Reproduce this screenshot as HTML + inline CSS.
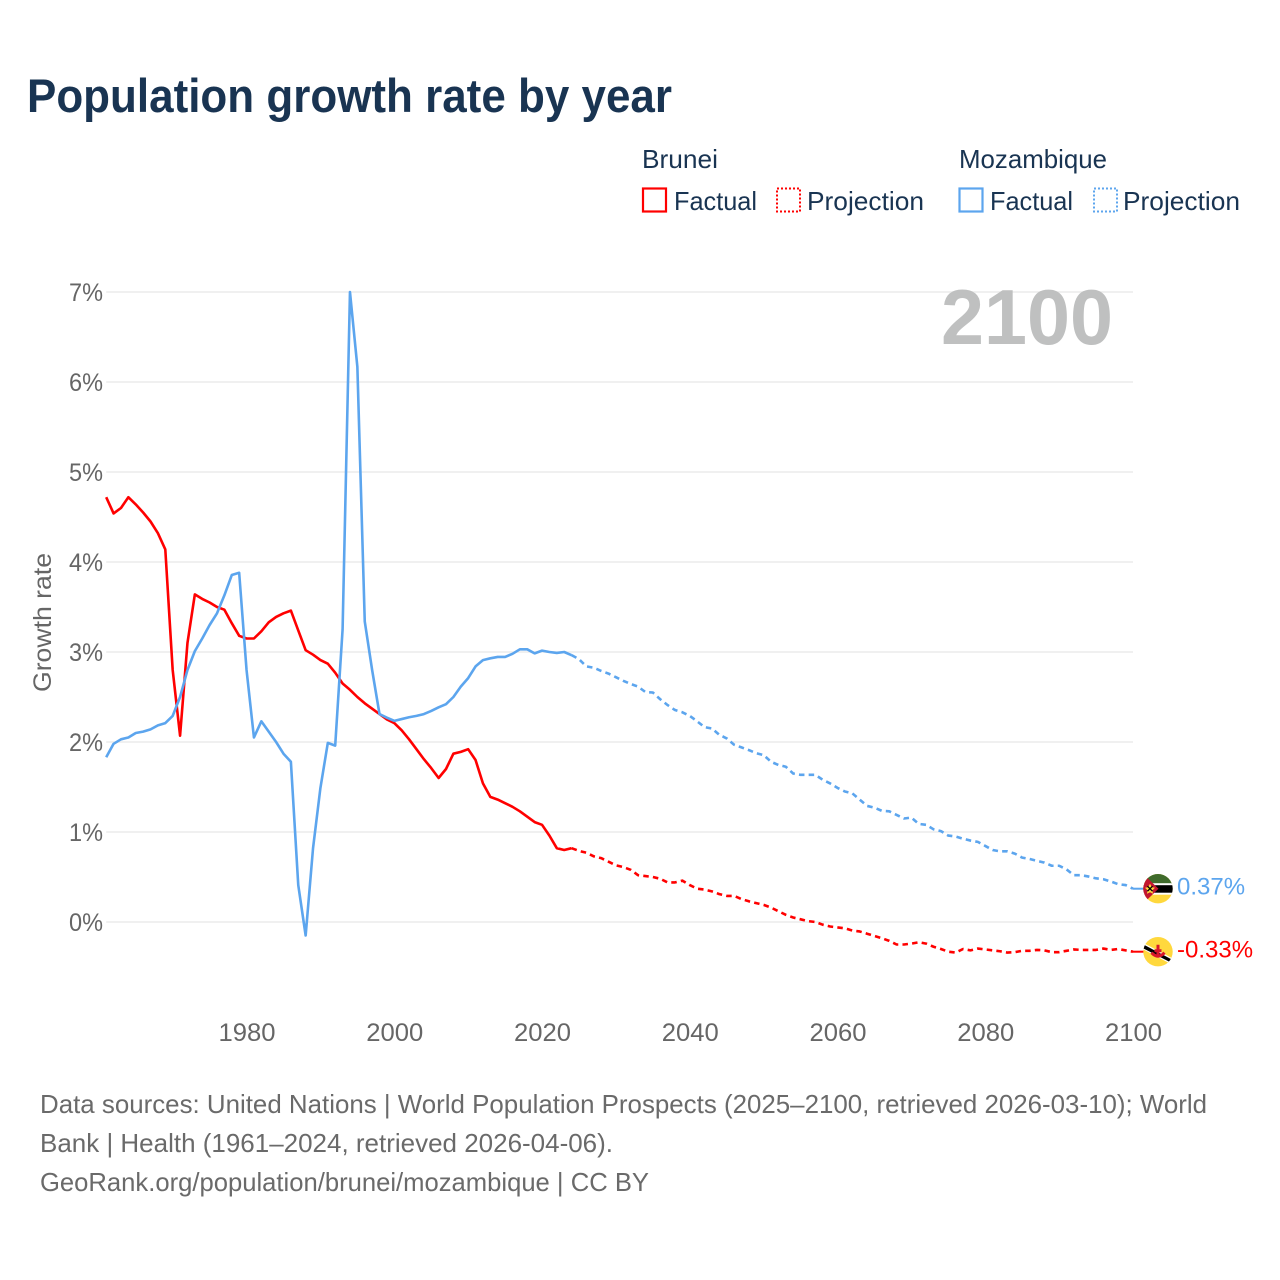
<!DOCTYPE html>
<html lang="en">
<head>
<meta charset="utf-8">
<title>Population growth rate by year</title>
<style>
html,body{margin:0;padding:0;background:#fff;}
svg{display:block;}
text{font-family:"Liberation Sans",sans-serif;}
</style>
</head>
<body>
<svg id="chart" xmlns="http://www.w3.org/2000/svg" width="1280" height="1280" viewBox="0 0 1280 1280">
  <rect width="1280" height="1280" fill="#fff"/>
  <text x="27" y="112" font-size="47" font-weight="700" fill="#193452" textLength="645" lengthAdjust="spacingAndGlyphs">Population growth rate by year</text>

  <g font-size="26" fill="#193452">
    <text x="642" y="168" textLength="76" lengthAdjust="spacingAndGlyphs">Brunei</text>
    <text x="959" y="168" textLength="148" lengthAdjust="spacingAndGlyphs">Mozambique</text>
    <rect x="643" y="188.5" width="23" height="23" fill="none" stroke="#ff0000" stroke-width="2.2"/>
    <text x="674" y="210" textLength="83" lengthAdjust="spacingAndGlyphs">Factual</text>
    <rect x="777" y="188.5" width="23" height="23" fill="none" stroke="#ff0000" stroke-width="2" stroke-dasharray="2 2"/>
    <text x="807" y="210" textLength="117" lengthAdjust="spacingAndGlyphs">Projection</text>
    <rect x="959.5" y="188.5" width="23" height="23" fill="none" stroke="#5ca5ee" stroke-width="2.2"/>
    <text x="990" y="210" textLength="83" lengthAdjust="spacingAndGlyphs">Factual</text>
    <rect x="1094" y="188.5" width="23" height="23" fill="none" stroke="#5ca5ee" stroke-width="2" stroke-dasharray="2 2"/>
    <text x="1123" y="210" textLength="117" lengthAdjust="spacingAndGlyphs">Projection</text>
  </g>

  <g id="grid"></g>
  <text x="941" y="344" font-size="78" font-weight="700" fill="#bfc0c0" textLength="172" lengthAdjust="spacingAndGlyphs">2100</text>
  <g id="yticks" font-size="25" fill="#666"></g>
  <g id="xticks" font-size="25" fill="#666"></g>
  <text transform="translate(51,692) rotate(-90)" font-size="25" fill="#666" textLength="139" lengthAdjust="spacingAndGlyphs">Growth rate</text>
  <g id="series"></g>

  <defs>
    <clipPath id="clip-flag"><circle cx="0" cy="0" r="14.7"/></clipPath>
  </defs>

  <g id="flag-moz">
    <g clip-path="url(#clip-flag)">
      <rect x="-16" y="-16" width="32" height="32" fill="#ffd83d"/>
      <rect x="-16" y="-16" width="32" height="11" fill="#3f6b2c"/>
      <rect x="-16" y="-5.5" width="32" height="11.5" fill="#fff"/>
      <rect x="-16" y="-3.5" width="32" height="7.5" fill="#000"/>
      <polygon points="-16,-16 0.5,0 -16,16" fill="#c2152f"/>
      <polygon points="-8,-5 -6,-1.5 -3,-1 -5.5,1.5 -5,5 -8,3.5 -11,5 -10.5,1.5 -13,-1 -10,-1.5" fill="#ffd83d"/>
      <path d="M-10.5 -2.5 L-5.5 2.5 M-5.5 -2.5 L-10.5 2.5" stroke="#000" stroke-width="1.3"/>
    </g>
  </g>
  <g id="flag-bru">
    <g clip-path="url(#clip-flag)">
      <rect x="-16" y="-16" width="32" height="32" fill="#ffd83d"/>
      <polygon points="-16,-9.5 -16,-3 16,14 16,7.5" fill="#fff"/>
      <polygon points="-16,-8 -16,-4 16,12.5 16,9" fill="#000"/>
      <path d="M0 -7 V5 M-6.5 1 Q0 8 6.5 1 M-3.5 -1 H3.5" stroke="#d8162b" stroke-width="3" fill="none"/>
    </g>
  </g>
  <g id="end-labels" font-size="24"></g>

  <g font-size="25.6" fill="#6a6a6a">
    <text x="40" y="1113" textLength="1167" lengthAdjust="spacingAndGlyphs">Data sources: United Nations | World Population Prospects (2025–2100, retrieved 2026-03-10); World</text>
    <text x="40" y="1152" textLength="573" lengthAdjust="spacingAndGlyphs">Bank | Health (1961–2024, retrieved 2026-04-06).</text>
    <text x="40" y="1191" textLength="609" lengthAdjust="spacingAndGlyphs">GeoRank.org/population/brunei/mozambique | CC BY</text>
  </g>
</svg>
<script>
const yTickValues = [0, 1, 2, 3, 4, 5, 6, 7];
const xTickYears = [1980, 2000, 2020, 2040, 2060, 2080, 2100];
const factualStartYear = 1961;
const projectionStartYear = 2024;

const bruneiFactual = [
  4.72,4.54,4.60,4.72,4.64,4.55,4.45,4.32,4.14,2.80,
  2.07,3.10,3.64,3.59,3.55,3.50,3.47,3.32,3.18,3.15,
  3.15,3.23,3.33,3.39,3.43,3.46,3.24,3.02,2.97,2.91,
  2.87,2.77,2.65,2.58,2.50,2.43,2.37,2.31,2.25,2.21,
  2.13,2.03,1.92,1.81,1.71,1.60,1.70,1.87,1.89,1.92,
  1.80,1.54,1.39,1.36,1.32,1.28,1.23,1.17,1.11,1.08,
  0.96,0.82,0.80,0.82
];
const bruneiProjection = [
  0.82,
  0.79,0.77,0.73,0.71,0.67,0.63,
  0.61,0.58,0.52,0.51,0.50,0.48,0.44,0.44,0.46,0.41,
  0.37,0.36,0.34,0.31,0.29,0.29,0.255,0.23,0.21,0.19,
  0.16,0.12,0.08,0.05,0.03,0.01,0,-0.03,-0.05,-0.06,
  -0.07,-0.095,-0.105,-0.13,-0.155,-0.18,-0.21,-0.25,-0.25,-0.24,
  -0.225,-0.24,-0.275,-0.30,-0.33,-0.34,-0.30,-0.315,-0.295,-0.305,
  -0.315,-0.325,-0.34,-0.335,-0.32,-0.32,-0.31,-0.315,-0.335,-0.335,
  -0.32,-0.305,-0.31,-0.31,-0.31,-0.295,-0.31,-0.30,-0.315,-0.33
];
const mozambiqueFactual = [
  1.83,1.98,2.03,2.05,2.10,2.115,2.14,2.185,2.21,2.29,
  2.50,2.80,3.01,3.15,3.30,3.43,3.63,3.855,3.88,2.80,
  2.05,2.23,2.115,2.00,1.87,1.78,0.41,-0.15,0.82,1.49,
  1.99,1.96,3.25,7.00,6.17,3.34,2.80,2.31,2.27,2.235,
  2.255,2.275,2.29,2.31,2.345,2.385,2.42,2.50,2.615,2.71,
  2.84,2.91,2.93,2.945,2.945,2.98,3.03,3.03,2.985,3.015,
  3.00,2.99,3.00,2.965
];
const mozambiqueProjection = [
  2.965,
  2.92,2.84,2.825,2.79,2.76,2.72,
  2.68,2.645,2.615,2.555,2.55,2.475,2.41,2.355,2.33,2.29,
  2.23,2.165,2.15,2.08,2.04,1.97,1.94,1.91,1.875,1.855,
  1.78,1.745,1.725,1.65,1.635,1.635,1.635,1.58,1.54,1.49,
  1.45,1.43,1.36,1.29,1.27,1.235,1.23,1.19,1.15,1.16,
  1.09,1.08,1.03,1.01,0.96,0.95,0.925,0.905,0.89,0.845,
  0.80,0.785,0.785,0.76,0.715,0.70,0.68,0.66,0.625,0.625,
  0.585,0.52,0.52,0.505,0.485,0.475,0.45,0.42,0.41,0.37
];

const SVGNS = 'http://www.w3.org/2000/svg';
const plotLeft = 106.2, plotRight = 1133, plotZeroY = 922, plotPerUnit = 90;
const xDomainStart = 1961, xDomainEnd = 2100;
const flagCenterX = 1158;

function xScale(year) {
  return plotLeft + (year - xDomainStart) * (plotRight - plotLeft) / (xDomainEnd - xDomainStart);
}
function yScale(value) {
  return plotZeroY - value * plotPerUnit;
}
function make(tag) {
  return document.createElementNS(SVGNS, tag);
}

const gridGroup = document.getElementById('grid');
const yTickGroup = document.getElementById('yticks');
yTickValues.forEach(function (v) {
  const line = make('line');
  
  
  line.setAttribute('x1', plotLeft);
  line.setAttribute('x2', plotRight);
  line.setAttribute('y1', yScale(v));
  line.setAttribute('y2', yScale(v));
  line.setAttribute('stroke', '#ebebeb');
  line.setAttribute('stroke-width', '1.6');
  gridGroup.appendChild(line);

  const label = make('text');
  
  
  label.setAttribute('x', 103);
  label.setAttribute('y', yScale(v) + 9);
  label.setAttribute('text-anchor', 'end');
  label.setAttribute('textLength', '34');
  label.setAttribute('lengthAdjust', 'spacingAndGlyphs');
  label.textContent = v + '%';
  yTickGroup.appendChild(label);
});

const xTickGroup = document.getElementById('xticks');
xTickYears.forEach(function (year) {
  const label = make('text');
  
  
  label.setAttribute('x', xScale(year) + 0.5);
  label.setAttribute('y', 1041);
  label.setAttribute('text-anchor', 'middle');
  label.setAttribute('textLength', '57');
  label.setAttribute('lengthAdjust', 'spacingAndGlyphs');
  label.textContent = String(year);
  xTickGroup.appendChild(label);
});

const seriesGroup = document.getElementById('series');
function drawSeries(values, startYear, color, dashed, name) {
  const points = values.map(function (v, i) {
    return xScale(startYear + i).toFixed(2) + ',' + yScale(v).toFixed(2);
  });
  const line = make('polyline');
  
  
  line.setAttribute('points', points.join(' '));
  line.setAttribute('fill', 'none');
  line.setAttribute('stroke', color);
  line.setAttribute('stroke-width', '2.6');
  line.setAttribute('stroke-linejoin', 'round');
  if (dashed) {
    line.setAttribute('stroke-dasharray', '5.5 4.2');
  }
  seriesGroup.appendChild(line);
}
function drawEnd(values, color, flagId, name) {
  const last = values[values.length - 1];
  const yPos = yScale(last);
  const leader = make('line');
  
  
  leader.setAttribute('x1', plotRight);
  leader.setAttribute('x2', flagCenterX - 13);
  leader.setAttribute('y1', yPos);
  leader.setAttribute('y2', yPos);
  leader.setAttribute('stroke', color);
  leader.setAttribute('stroke-width', '2');
  seriesGroup.appendChild(leader);

  document.getElementById(flagId).setAttribute('transform', 'translate(' + flagCenterX + ',' + yPos + ')');

  const label = make('text');
  
  
  label.setAttribute('x', 1177);
  label.setAttribute('y', yPos + 6);
  label.setAttribute('fill', color);
  label.textContent = last.toFixed(2) + '%';
  document.getElementById('end-labels').appendChild(label);
}

drawSeries(bruneiFactual, factualStartYear, '#ff0000', false, 'brunei-factual-line');
drawSeries(bruneiProjection, projectionStartYear, '#ff0000', true, 'brunei-projection-line');
drawSeries(mozambiqueFactual, factualStartYear, '#5ca5ee', false, 'mozambique-factual-line');
drawSeries(mozambiqueProjection, projectionStartYear, '#5ca5ee', true, 'mozambique-projection-line');
drawEnd(bruneiProjection, '#ff0000', 'flag-bru', 'brunei');
drawEnd(mozambiqueProjection, '#5ca5ee', 'flag-moz', 'mozambique');
</script>
</body>
</html>
